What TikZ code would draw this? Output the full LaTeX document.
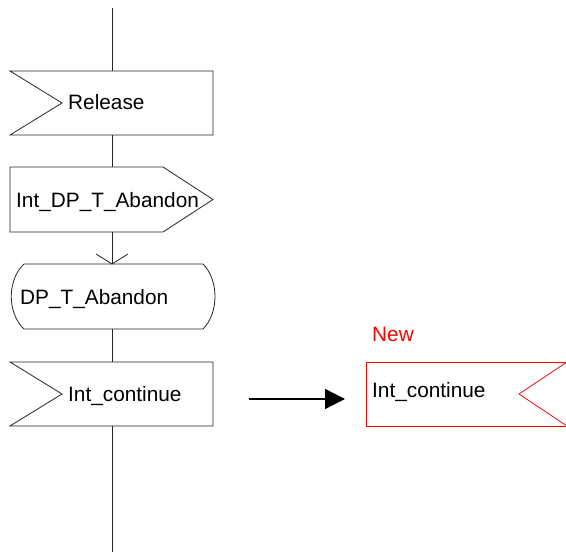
\documentclass[tikz,border=0pt]{standalone}
\usepackage{fontspec}
\setmainfont{Liberation Sans}
\usetikzlibrary{arrows.meta,calc}
\begin{document}
\begin{tikzpicture}[x=1pt,y=-1pt,
  ln/.style={draw=black!85,line width=0.8pt},
  frame/.style={draw=none,minimum width=#1,minimum height=64pt,inner sep=0pt,outer sep=0pt},
  lbl/.style={anchor=base west,inner sep=0pt,font=\fontsize{20.8}{24}\selectfont},
  redln/.style={draw=red,line width=0.8pt}]
\useasboundingbox (0,0) rectangle (566,556);
% frames
\node[frame=203pt] (rel) at (111.5,103) {};
\node[frame=203pt,minimum height=65pt] (out) at (111.5,199.5) {};
\node[frame=204pt,minimum height=65pt] (dp) at (113,296.5) {};
\node[frame=203pt] (ic) at (111.5,394) {};
\coordinate (top) at (112,8);
\coordinate (bot) at (112,552);
% spine
\draw[ln] (top) -- (rel.north -| top);
\draw[ln] (rel.south -| top) -- (out.north -| top);
\draw[ln] (out.south -| top) -- (dp.north -| top);
\draw[ln] (dp.north -| top) ++(-16,-10) -- (dp.north -| top) -- ++(16,-10);
\draw[ln] (dp.south -| top) -- (ic.north -| top);
\draw[ln] (ic.south -| top) -- (bot);
% Release (input)
\draw[ln] (rel.north west) -- (rel.north east) -- (rel.south east) -- (rel.south west) -- ($(rel.west)+(52,0)$) -- cycle;
\node[lbl] at (68,110) {Release};
% output
\draw[ln] (out.north west) -- ($(out.north east)+(-50,0)$) -- (out.east) -- ($(out.south east)+(-50,0)$) -- (out.south west) -- cycle;
\node[lbl] at (16,208) {Int\_DP\_T\_Abandon};
% DP state-like
\draw[ln] ($(dp.north west)+(13,0)$) -- ($(dp.north east)+(-12,0)$)
  .. controls ($(dp.north east)+(4,16)$) and ($(dp.south east)+(4,-16)$) .. ($(dp.south east)+(-12,0)$)
  -- ($(dp.south west)+(13,0)$)
  .. controls ($(dp.south west)+(-4,-16)$) and ($(dp.north west)+(-4,16)$) .. ($(dp.north west)+(13,0)$);
\node[lbl] at (20,305) {DP\_T\_Abandon};
% Int_continue (input)
\draw[ln] (ic.north west) -- (ic.north east) -- (ic.south east) -- (ic.south west) -- ($(ic.west)+(52,0)$) -- cycle;
\node[lbl] at (68,402) {Int\_continue};
% arrow
\coordinate (a1) at (249,399);
\coordinate (a2) at (345,399);
\draw[line width=1.3pt,-{Triangle[length=20pt,width=20pt]}] (a1) -- (a2);
% red new
\node[lbl,text=red] at (372,342) {New};
\coordinate (rnw) at (366,362);
\coordinate (rsw) at (366,426);
\coordinate (rne) at (567,362);
\coordinate (rse) at (567,426);
\coordinate (rtip) at (519,394);
\draw[redln] (rne) -- (rnw) -- (rsw) -- (rse);
\draw[redln] (rne) -- (rtip) -- (rse);
\node[lbl] at (372,398) {Int\_continue};
\end{tikzpicture}
\end{document}
